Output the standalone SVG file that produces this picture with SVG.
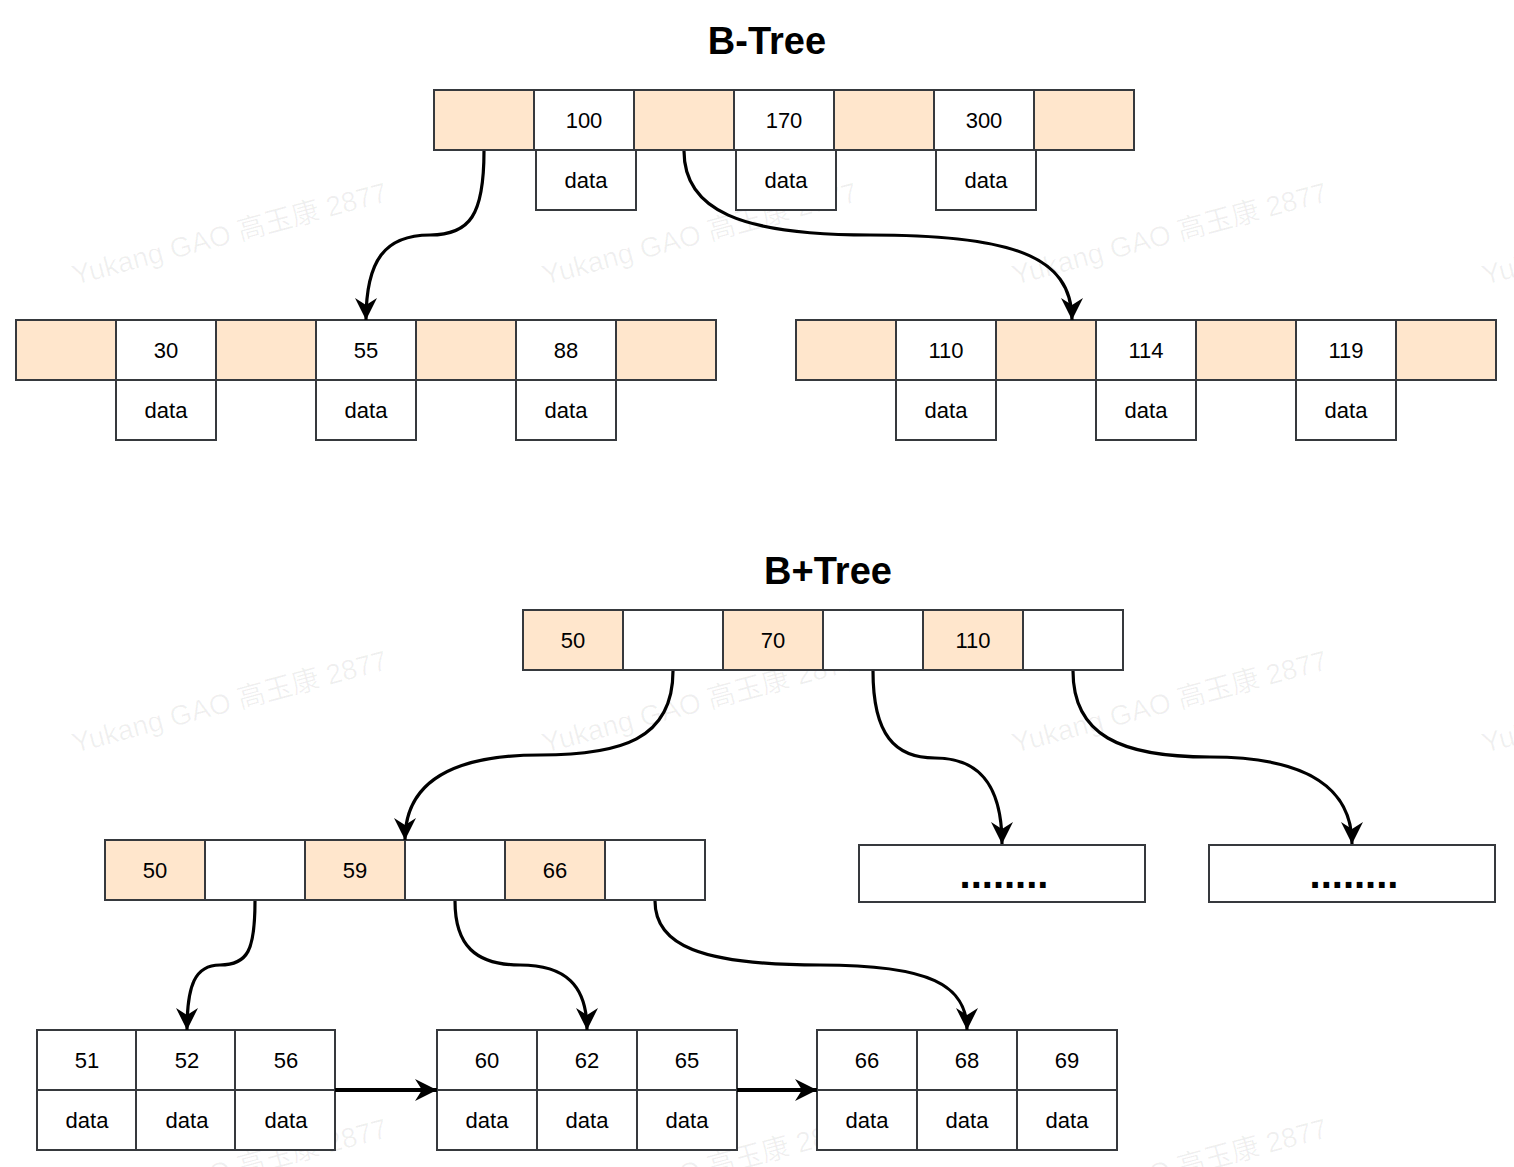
<svg xmlns="http://www.w3.org/2000/svg" width="1514" height="1167" viewBox="0 0 1514 1167">
<style>
.c{fill:#fff;stroke:#36393d;stroke-width:2}
.o{fill:#ffe6cc;stroke:#36393d;stroke-width:2}
.t{font-family:"Liberation Sans",Arial,sans-serif;font-size:22px;text-anchor:middle;fill:#000}
.h{font-family:"Liberation Sans",Arial,sans-serif;font-size:38px;font-weight:bold;text-anchor:middle;fill:#000}
.d{font-family:"Liberation Sans",Arial,sans-serif;font-size:40px;font-weight:bold;text-anchor:middle;fill:#000}
.e{fill:none;stroke:#000;stroke-width:3.2}
.s{fill:none;stroke:#000;stroke-width:4}
.wm{font-family:"Liberation Sans","Noto Sans CJK SC",sans-serif;font-size:28px;text-anchor:middle;fill:#000;fill-opacity:0.06}
</style>
<defs>
<marker id="arr" markerUnits="userSpaceOnUse" markerWidth="24" markerHeight="24" refX="22" refY="11" orient="auto" viewBox="0 0 24 24">
<path d="M0,0 L22,11 L0,22 L7,11 z" fill="#000"/>
</marker>
</defs>
<rect width="1514" height="1167" fill="#fff"/>
<g id="watermark">
<text class="wm" x="232" y="243" transform="rotate(-15 232 243)">Yukang GAO 高玉康 2877</text>
<text class="wm" x="702" y="243" transform="rotate(-15 702 243)">Yukang GAO 高玉康 2877</text>
<text class="wm" x="1172" y="243" transform="rotate(-15 1172 243)">Yukang GAO 高玉康 2877</text>
<text class="wm" x="1642" y="243" transform="rotate(-15 1642 243)">Yukang GAO 高玉康 2877</text>
<text class="wm" x="232" y="711" transform="rotate(-15 232 711)">Yukang GAO 高玉康 2877</text>
<text class="wm" x="702" y="711" transform="rotate(-15 702 711)">Yukang GAO 高玉康 2877</text>
<text class="wm" x="1172" y="711" transform="rotate(-15 1172 711)">Yukang GAO 高玉康 2877</text>
<text class="wm" x="1642" y="711" transform="rotate(-15 1642 711)">Yukang GAO 高玉康 2877</text>
<text class="wm" x="232" y="1179" transform="rotate(-15 232 1179)">Yukang GAO 高玉康 2877</text>
<text class="wm" x="702" y="1179" transform="rotate(-15 702 1179)">Yukang GAO 高玉康 2877</text>
<text class="wm" x="1172" y="1179" transform="rotate(-15 1172 1179)">Yukang GAO 高玉康 2877</text>
</g>
<g id="title-btree"><text class="h" x="767" y="54">B-Tree</text></g>
<g id="title-bplus"><text class="h" x="828" y="584">B+Tree</text></g>

<g id="btree-root">
<rect class="o" x="434" y="90" width="100" height="60"/>
<rect class="o" x="634" y="90" width="100" height="60"/>
<rect class="o" x="834" y="90" width="100" height="60"/>
<rect class="o" x="1034" y="90" width="100" height="60"/>
<rect class="c" x="534" y="90" width="100" height="60"/>
<rect class="c" x="734" y="90" width="100" height="60"/>
<rect class="c" x="934" y="90" width="100" height="60"/>
<rect class="c" x="536" y="150" width="100" height="60"/>
<rect class="c" x="736" y="150" width="100" height="60"/>
<rect class="c" x="936" y="150" width="100" height="60"/>
<text class="t" x="584" y="128">100</text>
<text class="t" x="784" y="128">170</text>
<text class="t" x="984" y="128">300</text>
<text class="t" x="586" y="188">data</text>
<text class="t" x="786" y="188">data</text>
<text class="t" x="986" y="188">data</text>
</g>

<g id="btree-left">
<rect class="o" x="16" y="320" width="100" height="60"/>
<rect class="o" x="216" y="320" width="100" height="60"/>
<rect class="o" x="416" y="320" width="100" height="60"/>
<rect class="o" x="616" y="320" width="100" height="60"/>
<rect class="c" x="116" y="320" width="100" height="60"/>
<rect class="c" x="316" y="320" width="100" height="60"/>
<rect class="c" x="516" y="320" width="100" height="60"/>
<rect class="c" x="116" y="380" width="100" height="60"/>
<rect class="c" x="316" y="380" width="100" height="60"/>
<rect class="c" x="516" y="380" width="100" height="60"/>
<text class="t" x="166" y="358">30</text>
<text class="t" x="366" y="358">55</text>
<text class="t" x="566" y="358">88</text>
<text class="t" x="166" y="418">data</text>
<text class="t" x="366" y="418">data</text>
<text class="t" x="566" y="418">data</text>
</g>

<g id="btree-right">
<rect class="o" x="796" y="320" width="100" height="60"/>
<rect class="o" x="996" y="320" width="100" height="60"/>
<rect class="o" x="1196" y="320" width="100" height="60"/>
<rect class="o" x="1396" y="320" width="100" height="60"/>
<rect class="c" x="896" y="320" width="100" height="60"/>
<rect class="c" x="1096" y="320" width="100" height="60"/>
<rect class="c" x="1296" y="320" width="100" height="60"/>
<rect class="c" x="896" y="380" width="100" height="60"/>
<rect class="c" x="1096" y="380" width="100" height="60"/>
<rect class="c" x="1296" y="380" width="100" height="60"/>
<text class="t" x="946" y="358">110</text>
<text class="t" x="1146" y="358">114</text>
<text class="t" x="1346" y="358">119</text>
<text class="t" x="946" y="418">data</text>
<text class="t" x="1146" y="418">data</text>
<text class="t" x="1346" y="418">data</text>
</g>

<g id="bplus-root">
<rect class="o" x="523" y="610" width="100" height="60"/>
<rect class="c" x="623" y="610" width="100" height="60"/>
<rect class="o" x="723" y="610" width="100" height="60"/>
<rect class="c" x="823" y="610" width="100" height="60"/>
<rect class="o" x="923" y="610" width="100" height="60"/>
<rect class="c" x="1023" y="610" width="100" height="60"/>
<text class="t" x="573" y="648">50</text>
<text class="t" x="773" y="648">70</text>
<text class="t" x="973" y="648">110</text>
</g>

<g id="bplus-mid">
<rect class="o" x="105" y="840" width="100" height="60"/>
<rect class="c" x="205" y="840" width="100" height="60"/>
<rect class="o" x="305" y="840" width="100" height="60"/>
<rect class="c" x="405" y="840" width="100" height="60"/>
<rect class="o" x="505" y="840" width="100" height="60"/>
<rect class="c" x="605" y="840" width="100" height="60"/>
<text class="t" x="155" y="878">50</text>
<text class="t" x="355" y="878">59</text>
<text class="t" x="555" y="878">66</text>
</g>

<g id="bplus-more1">
<rect class="c" x="859" y="845" width="286" height="57"/>
<text class="d" x="1004" y="888">........</text>
</g>
<g id="bplus-more2">
<rect class="c" x="1209" y="845" width="286" height="57"/>
<text class="d" x="1354" y="888">........</text>
</g>

<g id="leaf1">
<rect class="c" x="37" y="1030" width="99" height="60"/>
<rect class="c" x="136" y="1030" width="99" height="60"/>
<rect class="c" x="235" y="1030" width="100" height="60"/>
<rect class="c" x="37" y="1090" width="99" height="60"/>
<rect class="c" x="136" y="1090" width="99" height="60"/>
<rect class="c" x="235" y="1090" width="100" height="60"/>
<text class="t" x="87" y="1068">51</text>
<text class="t" x="187" y="1068">52</text>
<text class="t" x="286" y="1068">56</text>
<text class="t" x="87" y="1128">data</text>
<text class="t" x="187" y="1128">data</text>
<text class="t" x="286" y="1128">data</text>
</g>

<g id="leaf2">
<rect class="c" x="437" y="1030" width="100" height="60"/>
<rect class="c" x="537" y="1030" width="100" height="60"/>
<rect class="c" x="637" y="1030" width="100" height="60"/>
<rect class="c" x="437" y="1090" width="100" height="60"/>
<rect class="c" x="537" y="1090" width="100" height="60"/>
<rect class="c" x="637" y="1090" width="100" height="60"/>
<text class="t" x="487" y="1068">60</text>
<text class="t" x="587" y="1068">62</text>
<text class="t" x="687" y="1068">65</text>
<text class="t" x="487" y="1128">data</text>
<text class="t" x="587" y="1128">data</text>
<text class="t" x="687" y="1128">data</text>
</g>

<g id="leaf3">
<rect class="c" x="817" y="1030" width="100" height="60"/>
<rect class="c" x="917" y="1030" width="100" height="60"/>
<rect class="c" x="1017" y="1030" width="100" height="60"/>
<rect class="c" x="817" y="1090" width="100" height="60"/>
<rect class="c" x="917" y="1090" width="100" height="60"/>
<rect class="c" x="1017" y="1090" width="100" height="60"/>
<text class="t" x="867" y="1068">66</text>
<text class="t" x="967" y="1068">68</text>
<text class="t" x="1067" y="1068">69</text>
<text class="t" x="867" y="1128">data</text>
<text class="t" x="967" y="1128">data</text>
<text class="t" x="1067" y="1128">data</text>
</g>

<g id="connectors">
<path class="e" marker-end="url(#arr)" d="M484,151 C484,215 470,235 430,235 C385,235 366,260 366,320"/>
<path class="e" marker-end="url(#arr)" d="M684,151 C684,210 740,235 870,235 C1010,235 1072,255 1072,320"/>
<path class="e" marker-end="url(#arr)" d="M673,671 C673,740 620,755 540,755 C440,755 405,790 405,840"/>
<path class="e" marker-end="url(#arr)" d="M873,671 C873,735 895,758 935,758 C975,758 1002,780 1002,844"/>
<path class="e" marker-end="url(#arr)" d="M1073,671 C1073,735 1120,757 1210,757 C1310,757 1352,790 1352,844"/>
<path class="e" marker-end="url(#arr)" d="M255,901 C255,950 248,965 220,965 C195,965 187,985 187,1030"/>
<path class="e" marker-end="url(#arr)" d="M455,901 C455,945 475,965 520,965 C565,965 587,985 587,1030"/>
<path class="e" marker-end="url(#arr)" d="M655,901 C655,945 700,965 820,965 C930,965 967,985 967,1030"/>
<path class="s" marker-end="url(#arr)" d="M335,1090 L437,1090"/>
<path class="s" marker-end="url(#arr)" d="M737,1090 L817,1090"/>
</g>
</svg>
